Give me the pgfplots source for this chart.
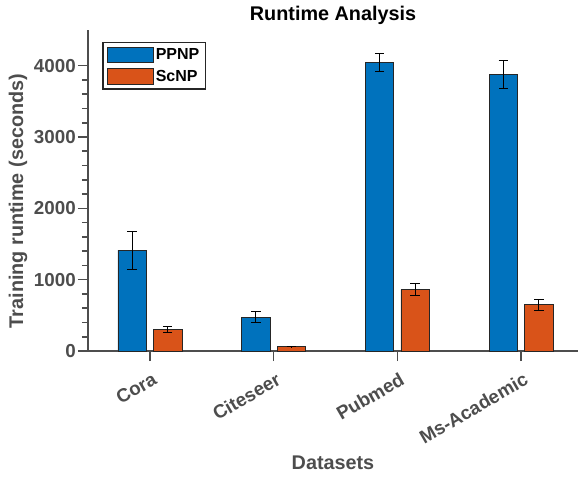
\documentclass[border=0pt]{standalone}
\usepackage{pgfplots}
\pgfplotsset{compat=1.18}
\usepackage{fontspec}
\setmainfont{Liberation Sans}
\definecolor{mblue}{HTML}{0072BD}
\definecolor{morange}{HTML}{D95319}
\definecolor{axgray}{HTML}{4D4D4D}
\begin{document}
\begin{tikzpicture}
\useasboundingbox (-88pt,-126pt) rectangle (491pt,351pt);
\begin{axis}[
  at={(0pt,0pt)}, anchor=south west,
  scale only axis, width=490pt, height=321pt,
  xmin=0.5, xmax=4.46, ymin=0, ymax=4500,
  axis lines*=left,
  axis line style={axgray, line width=1.6pt, -},
  every tick/.style={axgray, line width=1.6pt},
  tick align=outside,
  major tick length=10pt, minor tick length=6pt,
  xtick={1,2,3,4},
  xticklabels={Cora,Citeseer,Pubmed,Ms-Academic},
  ytick={0,1000,2000,3000,4000},
  minor y tick num=4,
  scaled y ticks=false,
  /pgf/number format/assume math mode=true,
  yticklabel={\pgfmathprintnumber[fixed,1000 sep={}]{\tick}},
  tick label style={font=\fontsize{18.8pt}{21pt}\selectfont\bfseries, text=axgray},
  xticklabel style={rotate=30, anchor=north east, inner sep=1pt, yshift=-9pt, xshift=-3pt},
  yticklabel style={inner sep=2pt},
  xlabel={Datasets},
  ylabel={Training runtime (seconds)},
  label style={font=\fontsize{19.8pt}{22pt}\selectfont\bfseries, text=axgray},
  xlabel style={at={(axis description cs:0.5,-0.349)}, anchor=center},
  ylabel style={at={(axis description cs:-0.143,0.467)}, anchor=center},
  title={Runtime Analysis},
  title style={font=\fontsize{19.8pt}{22pt}\selectfont\bfseries, at={(axis description cs:0.5,1)}, anchor=base, yshift=3pt},
  ybar, bar width=28.4pt,
  legend style={at={(axis description cs:0.029,0.963)}, anchor=north west,
    draw=black!85, line width=1.6pt, font=\fontsize{16pt}{18pt}\selectfont\bfseries,
    inner xsep=4pt, inner ysep=4pt, row sep=5pt, cells={anchor=west}},
  legend image code/.code={\draw[#1, line width=0.8pt] (0pt,-7.5pt) rectangle (46pt,8pt);},
  error bars/error bar style={black, line width=0.9pt},
  error bars/error mark options={black, rotate=90, mark size=4.7pt, line width=0.9pt},
]
\addplot+[fill=mblue, draw=black!85, line width=0.7pt, bar shift=-17.8pt,
  error bars/.cd, y dir=both, y explicit]
  coordinates {(1,1413) +- (0,268) (2,476) +- (0,75) (3,4046) +- (0,121) (4,3874) +- (0,196)};
\addplot+[fill=morange, draw=black!85, line width=0.7pt, bar shift=17.8pt,
  error bars/.cd, y dir=both, y explicit]
  coordinates {(1,298) +- (0,42) (2,62) +- (0,5) (3,862) +- (0,88) (4,648) +- (0,73)};
\legend{PPNP,ScNP}
\end{axis}
\end{tikzpicture}
\end{document}
